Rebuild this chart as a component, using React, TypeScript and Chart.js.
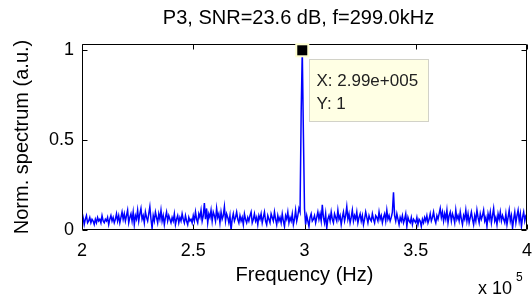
import React, { useEffect, useRef } from "react";
import { Chart, registerables } from "chart.js";

Chart.register(...registerables);

// Frequency axis: 200 kHz .. 400 kHz, 0.5 kHz step (one row = 10 kHz)
const freqStartHz = 200000;
const freqStepHz = 500;

const spectrum: number[] = [
  // 200
  0.10, 0.07, 0.03, 0.06, 0.08, 0.04, 0.05, 0.07, 0.04, 0.06, 0.05, 0.03, 0.06, 0.04, 0.07, 0.05, 0.06, 0.04, 0.08, 0.05,
  // 210
  0.04, 0.06, 0.05, 0.07, 0.03, 0.06, 0.08, 0.05, 0.07, 0.04, 0.06, 0.09, 0.05, 0.08, 0.04, 0.07, 0.10, 0.06, 0.09, 0.05,
  // 220
  0.08, 0.11, 0.04, 0.07, 0.09, 0.05, 0.10, 0.03, 0.08, 0.06, 0.11, 0.05, 0.09, 0.12, 0.06, 0.08, 0.04, 0.10, 0.07, 0.05,
  // 230
  0.09, 0.13, 0.06, 0.01, 0.08, 0.05, 0.10, 0.07, 0.04, 0.09, 0.06, 0.11, 0.05, 0.08, 0.03, 0.07, 0.10, 0.05, 0.08, 0.06,
  // 240
  0.04, 0.07, 0.05, 0.09, 0.03, 0.06, 0.08, 0.04, 0.07, 0.05, 0.09, 0.06, 0.04, 0.08, 0.05, 0.03, 0.07, 0.05, 0.06, 0.04,
  // 250
  0.08, 0.05, 0.10, 0.06, 0.04, 0.09, 0.07, 0.11, 0.05, 0.08, 0.15, 0.06, 0.12, 0.04, 0.09, 0.07, 0.11, 0.05, 0.10, 0.08,
  // 260
  0.05, 0.12, 0.07, 0.09, 0.04, 0.10, 0.06, 0.08, 0.13, 0.05, 0.09, 0.07, 0.04, 0.08, 0.00, 0.06, 0.09, 0.05, 0.07, 0.10,
  // 270
  0.06, 0.04, 0.08, 0.05, 0.07, 0.03, 0.09, 0.06, 0.04, 0.07, 0.05, 0.08, 0.10, 0.04, 0.06, 0.09, 0.05, 0.07, 0.03, 0.08,
  // 280
  0.06, 0.09, 0.04, 0.07, 0.10, 0.05, 0.03, 0.08, 0.06, 0.04, 0.09, 0.07, 0.05, 0.10, 0.06, 0.03, 0.08, 0.05, 0.07, 0.04,
  // 290
  0.09, 0.05, 0.02, 0.08, 0.06, 0.10, 0.04, 0.07, 0.05, 0.09, 0.03, 0.06, 0.11, 0.05, 0.08, 0.12, 0.10, 0.65, 1.00, 0.54,
  // 300
  0.12, 0.03, 0.08, 0.05, 0.02, 0.07, 0.09, 0.05, 0.06, 0.08, 0.04, 0.07, 0.10, 0.06, 0.09, 0.05, 0.14, 0.07, 0.04, 0.09,
  // 310
  0.01, 0.06, 0.08, 0.05, 0.10, 0.06, 0.04, 0.09, 0.07, 0.05, 0.11, 0.06, 0.08, 0.03, 0.07, 0.10, 0.05, 0.08, 0.13, 0.06,
  // 320
  0.09, 0.04, 0.07, 0.11, 0.05, 0.08, 0.06, 0.10, 0.04, 0.07, 0.09, 0.05, 0.08, 0.03, 0.06, 0.10, 0.07, 0.04, 0.08, 0.06,
  // 330
  0.05, 0.09, 0.06, 0.04, 0.08, 0.07, 0.05, 0.10, 0.06, 0.08, 0.04, 0.07, 0.09, 0.05, 0.11, 0.06, 0.08, 0.05, 0.07, 0.10,
  // 340
  0.21, 0.08, 0.05, 0.09, 0.06, 0.03, 0.07, 0.05, 0.08, 0.04, 0.06, 0.09, 0.02, 0.07, 0.05, 0.04, 0.07, 0.03, 0.06, 0.05,
  // 350
  0.04, 0.07, 0.03, 0.06, 0.05, 0.02, 0.06, 0.04, 0.07, 0.05, 0.08, 0.04, 0.06, 0.09, 0.05, 0.07, 0.10, 0.06, 0.04, 0.08,
  // 360
  0.06, 0.09, 0.12, 0.07, 0.10, 0.05, 0.09, 0.06, 0.11, 0.04, 0.08, 0.10, 0.05, 0.09, 0.07, 0.04, 0.11, 0.06, 0.08, 0.05,
  // 370
  0.10, 0.06, 0.03, 0.08, 0.06, 0.11, 0.05, 0.09, 0.04, 0.07, 0.10, 0.06, 0.03, 0.08, 0.05, 0.11, 0.07, 0.04, 0.09, 0.06,
  // 380
  0.08, 0.11, 0.05, 0.07, 0.02, 0.09, 0.06, 0.10, 0.04, 0.08, 0.12, 0.05, 0.07, 0.03, 0.09, 0.06, 0.10, 0.05, 0.08, 0.06,
  // 390
  0.04, 0.09, 0.03, 0.07, 0.11, 0.05, 0.08, 0.01, 0.06, 0.10, 0.04, 0.08, 0.11, 0.05, 0.09, 0.02, 0.07, 0.10, 0.05, 0.08,
  // 400
  0.09,
];

const xTickValues: number[] = [200000, 250000, 300000, 350000, 400000];
const yTickValues: number[] = [0, 0.5, 1];

const titleText = "P3, SNR=23.6 dB, f=299.0kHz";
const xTitle = "Frequency (Hz)";
const yTitle = "Norm. spectrum (a.u.)";
const tipLines: string[] = ["X: 2.99e+005", "Y: 1"];

const FONT = "'Liberation Sans', Arial, sans-serif";

const matlabPlugin = {
  id: "matlabDecor",
  afterDatasetsDraw(chart: any) {
    const { ctx, chartArea } = chart;
    const { left, right, top, bottom } = chartArea;
    const xs = chart.scales.x;
    const ys = chart.scales.y;
    ctx.save();
    // title, centred over the axes
    ctx.fillStyle = "#000";
    ctx.font = `20px ${FONT}`;
    ctx.textAlign = "center";
    ctx.textBaseline = "middle";
    ctx.fillText(titleText, (left + right) / 2 - 6, 18);

    // box
    const L = Math.round(left) + 0.5;
    const R = Math.round(right) - 0.5;
    const T = Math.round(top) + 0.5;
    const B = Math.round(bottom) - 0.5;
    ctx.strokeStyle = "#000";
    ctx.lineWidth = 1;
    ctx.beginPath();
    ctx.rect(L, T, R - L, B - T);
    ctx.stroke();
    // inward ticks
    const tl = 5;
    ctx.beginPath();
    xTickValues.forEach((v) => {
      const px = Math.round(xs.getPixelForValue(v)) + 0.5;
      ctx.moveTo(px, B);
      ctx.lineTo(px, B - tl);
      ctx.moveTo(px, T);
      ctx.lineTo(px, T + tl);
    });
    yTickValues.forEach((v) => {
      const py = Math.round(ys.getPixelForValue(v)) + 0.5;
      ctx.moveTo(L, py);
      ctx.lineTo(L + tl, py);
      ctx.moveTo(R, py);
      ctx.lineTo(R - tl, py);
    });
    ctx.stroke();

    // data tip at the peak
    let pi = 0;
    spectrum.forEach((v, i) => {
      if (v > spectrum[pi]) pi = i;
    });
    const fx = xs.getPixelForValue(freqStartHz + pi * freqStepHz);
    const fy = ys.getPixelForValue(spectrum[pi]);
    // marker
    ctx.fillStyle = "#FFFFD0";
    ctx.fillRect(fx - 7, fy - 7, 14, 14);
    ctx.fillStyle = "#000";
    ctx.fillRect(fx - 5, fy - 5, 10, 10);
    // tip box
    const bx = Math.round(fx + 7) + 0.5;
    const by = Math.round(fy + 9) + 0.5;
    const bw = 119;
    const bh = 62;
    ctx.fillStyle = "#FFFFE4";
    ctx.fillRect(bx, by, bw, bh);
    ctx.strokeStyle = "#D2D2C8";
    ctx.lineWidth = 1;
    ctx.strokeRect(bx, by, bw, bh);
    ctx.fillStyle = "#222";
    ctx.font = `17px ${FONT}`;
    ctx.textAlign = "left";
    ctx.textBaseline = "alphabetic";
    ctx.fillText(tipLines[0], bx + 7, by + 26);
    ctx.fillText(tipLines[1], bx + 7, by + 49);

    // exponent label
    ctx.fillStyle = "#000";
    ctx.font = `18px ${FONT}`;
    ctx.fillText("x 10", 478, 294);
    ctx.font = `12px ${FONT}`;
    ctx.fillText("5", 516, 281);
    ctx.restore();
  },
};

export default function App() {
  const ref = useRef<HTMLCanvasElement | null>(null);
  useEffect(() => {
    document.body.style.margin = "0";
    const canvas = ref.current;
    if (!canvas) return;
    const points = spectrum.map((v, i) => ({ x: freqStartHz + i * freqStepHz, y: v }));
    const chart = new Chart(canvas, {
      type: "line",
      data: {
        datasets: [
          {
            data: points,
            borderColor: "#0000FF",
            borderWidth: 1.5,
            pointRadius: 0,
            tension: 0,
            fill: false,
          },
        ],
      },
      options: {
        animation: false,
        responsive: false,
        devicePixelRatio: 1,
        layout: { padding: { left: 0, right: 5, top: 44, bottom: 0 } },
        plugins: {
          legend: { display: false },
          tooltip: { enabled: false },
          title: { display: false },
        },
        scales: {
          x: {
            type: "linear",
            min: 200000,
            max: 400000,
            border: { display: false },
            grid: { display: false, drawTicks: false, tickLength: 0 },
            afterBuildTicks: (s: any) => {
              s.ticks = xTickValues.map((v) => ({ value: v }));
            },
            afterFit: (s: any) => {
              s.height = 66;
              s.paddingRight = 5;
              s.paddingLeft = 0;
            },
            ticks: {
              color: "#000",
              padding: 10,
              maxRotation: 0,
              font: { family: FONT, size: 18 },
              callback: (v: any) => String(Number(v) / 100000),
            },
            title: {
              display: true,
              text: xTitle,
              color: "#000",
              font: { family: FONT, size: 20 },
              padding: { top: 0, bottom: 9 },
            },
          },
          y: {
            type: "linear",
            min: 0,
            max: 1.035,
            border: { display: false },
            grid: { display: false, drawTicks: false, tickLength: 0 },
            afterBuildTicks: (s: any) => {
              s.ticks = yTickValues.map((v) => ({ value: v }));
            },
            afterFit: (s: any) => {
              s.width = 82;
              s.paddingTop = 0;
              s.paddingBottom = 0;
            },
            ticks: {
              color: "#000",
              padding: 8,
              font: { family: FONT, size: 18 },
              callback: (v: any) => String(v),
            },
            title: {
              display: true,
              text: yTitle,
              color: "#000",
              font: { family: FONT, size: 20 },
              padding: { top: 10, bottom: 0 },
            },
          },
        },
      },
      plugins: [matlabPlugin],
    });
    return () => chart.destroy();
  }, []);
  return (
    <div style={{ position: "absolute", left: 0, top: 0, width: 532, height: 296, background: "#fff" }}>
      <canvas ref={ref} width={532} height={296} style={{ width: 532, height: 296, display: "block" }} />
    </div>
  );
}
